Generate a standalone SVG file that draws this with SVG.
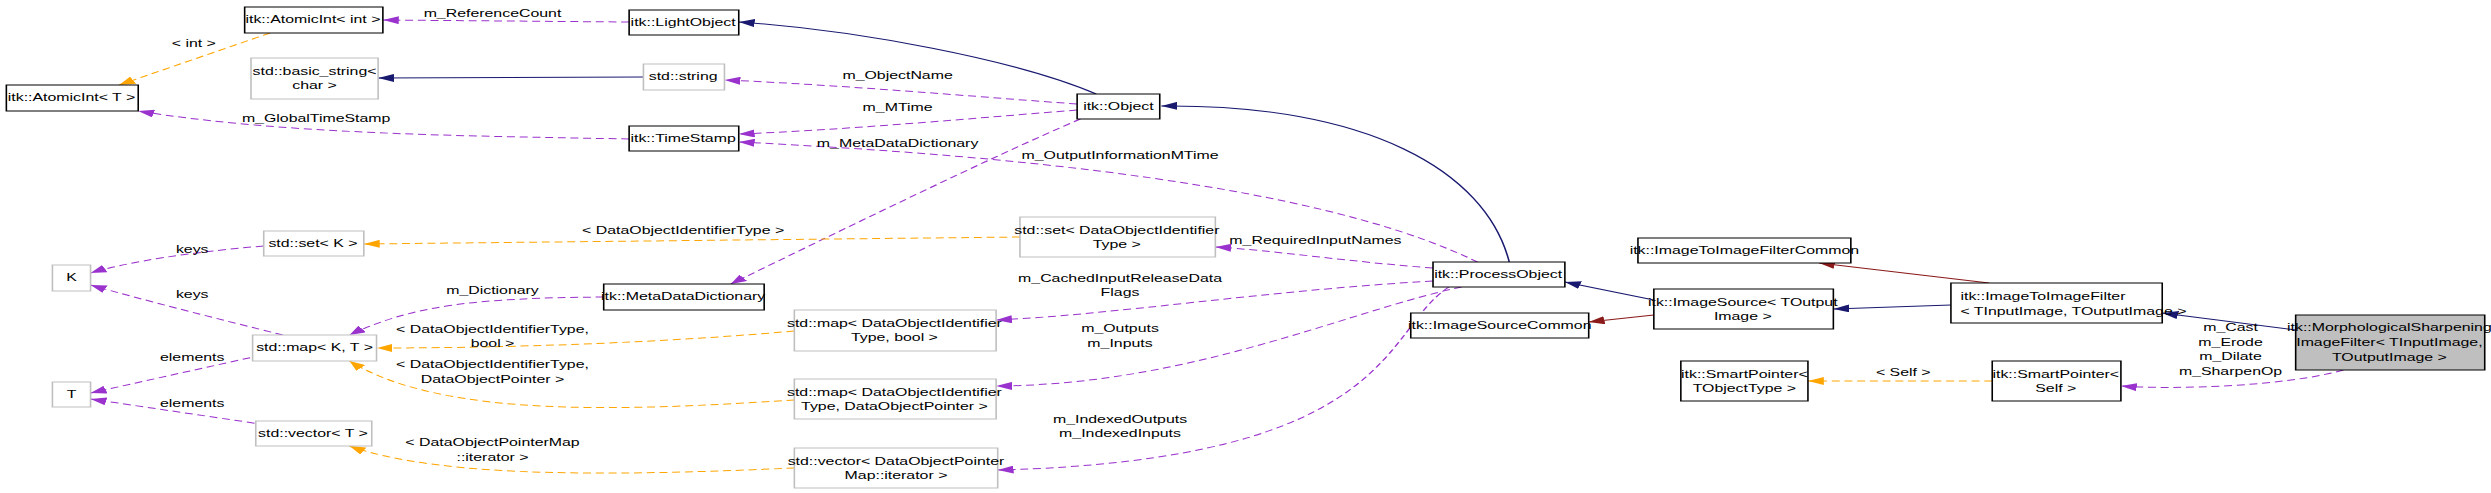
<svg xmlns="http://www.w3.org/2000/svg" width="2491" height="493" viewBox="0 0 2491 493">
<style>
text{font-family:"Liberation Sans",Arial,sans-serif;font-size:10px;fill:#000}
.n{text-anchor:middle}
.b{fill:#fff;stroke:#000;stroke-width:1}
.g{fill:#fff;stroke:#bfbfbf;stroke-width:1}
.h{fill:#bfbfbf;stroke:#000;stroke-width:1}
.inh{fill:none;stroke:#191970;stroke-width:1}
.red{fill:none;stroke:#8b1a1a;stroke-width:1}
.use{fill:none;stroke:#9a32cd;stroke-width:1;stroke-dasharray:5,3}
.tpl{fill:none;stroke:#ffa500;stroke-width:1;stroke-dasharray:5,3}
</style>
<defs>
<marker id="aN" markerWidth="10" markerHeight="8" refX="10" refY="4" orient="auto" markerUnits="userSpaceOnUse"><path d="M0,0L10,4L0,8z" fill="#191970"/></marker>
<marker id="aR" markerWidth="10" markerHeight="8" refX="10" refY="4" orient="auto" markerUnits="userSpaceOnUse"><path d="M0,0L10,4L0,8z" fill="#8b1a1a"/></marker>
<marker id="aP" markerWidth="10" markerHeight="8" refX="10" refY="4" orient="auto" markerUnits="userSpaceOnUse"><path d="M0,0L10,4L0,8z" fill="#9a32cd"/></marker>
<marker id="aO" markerWidth="10" markerHeight="8" refX="10" refY="4" orient="auto" markerUnits="userSpaceOnUse"><path d="M0,0L10,4L0,8z" fill="#ffa500"/></marker>
</defs>
<rect width="2491" height="493" fill="#fff"/>
<g transform="scale(1.5887,1)">
<g id="connectors">
<path class="inh" marker-end="url(#aN)" d="M690,94 C640,60 540,30 465,22"/>
<path class="inh" marker-end="url(#aN)" d="M405,77 L238,78"/>
<path class="inh" marker-end="url(#aN)" d="M950,262 C935,170 860,104 731,106"/>
<path class="inh" marker-end="url(#aN)" d="M1041,300 L985,282"/>
<path class="inh" marker-end="url(#aN)" d="M1228,305 L1154,309"/>
<path class="inh" marker-end="url(#aN)" d="M1445,330 L1361,313"/>
<path class="red" marker-end="url(#aR)" d="M1041,315 L1000,322"/>
<path class="red" marker-end="url(#aR)" d="M1252,283 L1145,263"/>
<path class="use" marker-end="url(#aP)" d="M396,22 L241,20"/>
<path class="use" marker-end="url(#aP)" d="M678,104 C600,95 530,85 456,80"/>
<path class="use" marker-end="url(#aP)" d="M678,110 C600,120 530,130 465,134"/>
<path class="use" marker-end="url(#aP)" d="M680,119 C620,160 530,230 460,284"/>
<path class="use" marker-end="url(#aP)" d="M930,262 C850,200 700,160 465,142"/>
<path class="use" marker-end="url(#aP)" d="M396,139 C300,136 180,135 87,111"/>
<path class="use" marker-end="url(#aP)" d="M902,268 C850,262 800,250 765,247"/>
<path class="use" marker-end="url(#aP)" d="M902,281 C800,290 700,315 627,320"/>
<path class="use" marker-end="url(#aP)" d="M920,287 C850,310 750,385 627,386"/>
<path class="use" marker-end="url(#aP)" d="M912,287 C870,330 880,460 628,470"/>
<path class="use" marker-end="url(#aP)" d="M380,297 C300,298 260,305 220,335"/>
<path class="use" marker-end="url(#aP)" d="M166,246 C120,252 80,262 57,273"/>
<path class="use" marker-end="url(#aP)" d="M178,335 C140,320 90,300 57,285"/>
<path class="use" marker-end="url(#aP)" d="M165,355 L57,393"/>
<path class="use" marker-end="url(#aP)" d="M168,425 L57,399"/>
<path class="use" marker-end="url(#aP)" d="M1475,370 C1440,386 1370,390 1335,386"/>
<path class="tpl" marker-end="url(#aO)" d="M170,33 L75,85"/>
<path class="tpl" marker-end="url(#aO)" d="M642,237 L229,244"/>
<path class="tpl" marker-end="url(#aO)" d="M500,331 C400,345 300,348 237,348"/>
<path class="tpl" marker-end="url(#aO)" d="M500,400 C400,410 280,420 220,361"/>
<path class="tpl" marker-end="url(#aO)" d="M500,468 C400,475 280,480 220,446"/>
<path class="tpl" marker-end="url(#aO)" d="M1254,381 L1138,381"/>
<text class="n" x="310" y="17">m_ReferenceCount</text>
<text class="n" x="565" y="79">m_ObjectName</text>
<text class="n" x="565" y="111">m_MTime</text>
<text class="n" x="565" y="147">m_MetaDataDictionary</text>
<text class="n" x="705" y="159">m_OutputInformationMTime</text>
<text class="n" x="199" y="122">m_GlobalTimeStamp</text>
<text class="n" x="828" y="244">m_RequiredInputNames</text>
<text class="n" x="705" y="282">m_CachedInputReleaseData</text>
<text class="n" x="705" y="296">Flags</text>
<text class="n" x="705" y="332">m_Outputs</text>
<text class="n" x="705" y="347">m_Inputs</text>
<text class="n" x="705" y="423">m_IndexedOutputs</text>
<text class="n" x="705" y="437">m_IndexedInputs</text>
<text class="n" x="310" y="294">m_Dictionary</text>
<text class="n" x="121" y="253">keys</text>
<text class="n" x="121" y="298">keys</text>
<text class="n" x="121" y="361">elements</text>
<text class="n" x="121" y="407">elements</text>
<text class="n" x="1404" y="331">m_Cast</text>
<text class="n" x="1404" y="346">m_Erode</text>
<text class="n" x="1404" y="360">m_Dilate</text>
<text class="n" x="1404" y="375">m_SharpenOp</text>
<text class="n" x="122" y="47">&lt; int &gt;</text>
<text class="n" x="430" y="234">&lt; DataObjectIdentifierType &gt;</text>
<text class="n" x="310" y="333">&lt; DataObjectIdentifierType,</text>
<text class="n" x="310" y="347">bool &gt;</text>
<text class="n" x="310" y="368">&lt; DataObjectIdentifierType,</text>
<text class="n" x="310" y="383">DataObjectPointer &gt;</text>
<text class="n" x="310" y="446">&lt; DataObjectPointerMap</text>
<text class="n" x="310" y="461">::iterator &gt;</text>
<text class="n" x="1198" y="376">&lt; Self &gt;</text>
</g>
<g id="n_morph"><rect class="h" x="1445" y="315" width="119" height="55"/><text class="n" x="1504" y="331">itk::MorphologicalSharpening</text><text class="n" x="1504" y="346">ImageFilter&lt; TInputImage,</text><text class="n" x="1504" y="361">TOutputImage &gt;</text></g>
<g id="n_i2i"><rect class="b" x="1228" y="283" width="133" height="40"/><text x="1234" y="300">itk::ImageToImageFilter</text><text x="1234" y="315">&lt; TInputImage, TOutputImage &gt;</text></g>
<g id="n_i2ic"><rect class="b" x="1031" y="238" width="134" height="25"/><text class="n" x="1098" y="254">itk::ImageToImageFilterCommon</text></g>
<g id="n_is"><rect class="b" x="1041" y="289" width="113" height="40"/><text class="n" x="1097" y="306">itk::ImageSource&lt; TOutput</text><text class="n" x="1097" y="320">Image &gt;</text></g>
<g id="n_isc"><rect class="b" x="888" y="313" width="112" height="25"/><text class="n" x="944" y="329">itk::ImageSourceCommon</text></g>
<g id="n_po"><rect class="b" x="902" y="262" width="83" height="25"/><text class="n" x="943" y="278">itk::ProcessObject</text></g>
<g id="n_obj"><rect class="b" x="678" y="94" width="52" height="25"/><text class="n" x="704" y="110">itk::Object</text></g>
<g id="n_lo"><rect class="b" x="396" y="10" width="69" height="25"/><text class="n" x="430" y="26">itk::LightObject</text></g>
<g id="n_aii"><rect class="b" x="154" y="7" width="87" height="26"/><text class="n" x="197" y="23">itk::AtomicInt&lt; int &gt;</text></g>
<g id="n_ait"><rect class="b" x="4" y="85" width="83" height="26"/><text class="n" x="45" y="101">itk::AtomicInt&lt; T &gt;</text></g>
<g id="n_bs"><rect class="g" x="158" y="58" width="80" height="41"/><text class="n" x="198" y="75">std::basic_string&lt;</text><text class="n" x="198" y="89">char &gt;</text></g>
<g id="n_str"><rect class="g" x="405" y="64" width="51" height="26"/><text class="n" x="430" y="80">std::string</text></g>
<g id="n_ts"><rect class="b" x="396" y="126" width="69" height="25"/><text class="n" x="430" y="142">itk::TimeStamp</text></g>
<g id="n_setk"><rect class="g" x="166" y="231" width="63" height="25"/><text class="n" x="197" y="247">std::set&lt; K &gt;</text></g>
<g id="n_k"><rect class="g" x="33" y="265" width="24" height="26"/><text class="n" x="45" y="281">K</text></g>
<g id="n_mapkt"><rect class="g" x="159" y="335" width="78" height="26"/><text class="n" x="198" y="351">std::map&lt; K, T &gt;</text></g>
<g id="n_t"><rect class="g" x="33" y="382" width="24" height="25"/><text class="n" x="45" y="398">T</text></g>
<g id="n_vect"><rect class="g" x="161" y="421" width="73" height="25"/><text class="n" x="197" y="437">std::vector&lt; T &gt;</text></g>
<g id="n_mdd"><rect class="b" x="380" y="284" width="101" height="26"/><text class="n" x="430" y="300">itk::MetaDataDictionary</text></g>
<g id="n_setdoi"><rect class="g" x="642" y="217" width="123" height="40"/><text class="n" x="703" y="234">std::set&lt; DataObjectIdentifier</text><text class="n" x="703" y="248">Type &gt;</text></g>
<g id="n_mapb"><rect class="g" x="500" y="310" width="127" height="41"/><text class="n" x="563" y="327">std::map&lt; DataObjectIdentifier</text><text class="n" x="563" y="341">Type, bool &gt;</text></g>
<g id="n_mapp"><rect class="g" x="500" y="379" width="127" height="40"/><text class="n" x="563" y="396">std::map&lt; DataObjectIdentifier</text><text class="n" x="563" y="410">Type, DataObjectPointer &gt;</text></g>
<g id="n_vecp"><rect class="g" x="500" y="448" width="128" height="40"/><text class="n" x="564" y="465">std::vector&lt; DataObjectPointer</text><text class="n" x="564" y="479">Map::iterator &gt;</text></g>
<g id="n_spt"><rect class="b" x="1058" y="361" width="80" height="40"/><text class="n" x="1098" y="378">itk::SmartPointer&lt;</text><text class="n" x="1098" y="392">TObjectType &gt;</text></g>
<g id="n_sps"><rect class="b" x="1254" y="361" width="81" height="40"/><text class="n" x="1294" y="378">itk::SmartPointer&lt;</text><text class="n" x="1294" y="392">Self &gt;</text></g>
</g>
</svg>
